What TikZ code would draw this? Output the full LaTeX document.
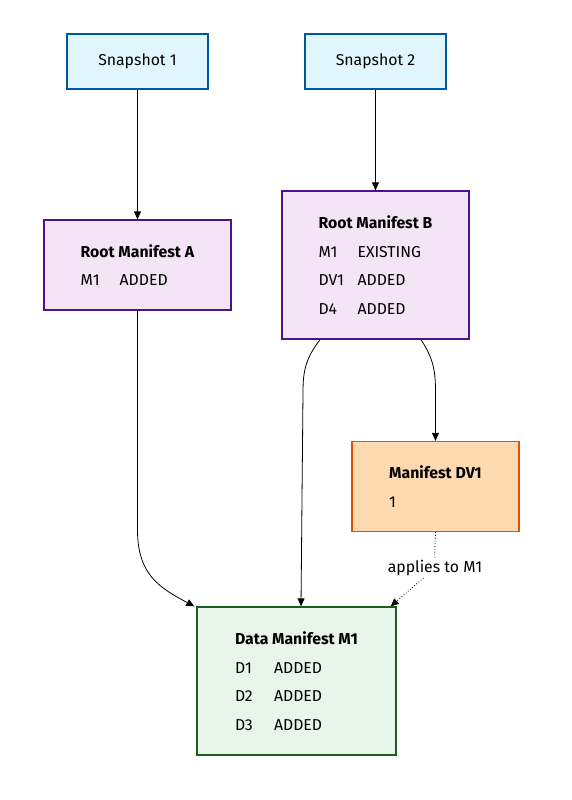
\documentclass[tikz,border=0pt]{standalone}
\usepackage{fontspec}
\setmainfont{Fira Sans}
\usetikzlibrary{arrows.meta}
\definecolor{snapfill}{HTML}{E1F5FE}
\definecolor{snapline}{HTML}{01579B}
\definecolor{rootfill}{HTML}{F3E5F5}
\definecolor{rootline}{HTML}{4A148C}
\definecolor{dvfill}{HTML}{FFDAB0}
\definecolor{dvline}{HTML}{E65100}
\definecolor{datafill}{HTML}{E8F5E9}
\definecolor{dataline}{HTML}{1B5E20}
\newcommand{\entry}[2]{\makebox[39pt][l]{#1}#2}
\begin{document}
\begin{tikzpicture}[x=1pt, y=-1pt,
		box/.style={draw, line width=1.3pt, align=left, inner sep=0pt, font=\fontsize{15.8}{28.5}\selectfont},
		snapbox/.style={box, fill=snapfill, draw=snapline, minimum width=141pt, minimum height=55pt},
		rootbox/.style={box, fill=rootfill, draw=rootline, minimum width=187pt},
		link/.style={line width=0.8pt, -{Triangle[length=8pt,width=7pt]}},
		dotlink/.style={line width=0.8pt, dotted}]
	\useasboundingbox (0,0) rectangle (572,800);
	
	% snapshots
	\node[snapbox] (s1) at (137.5, 61.5) {Snapshot 1};
	\node[snapbox] (s2) at (375.5, 61.5) {Snapshot 2};
	
	% root manifests
	\node[rootbox, minimum height=90pt] (ra) at (137.5, 265) {\textbf{Root Manifest A}\\ \entry{M1}{ADDED}};
	\node[rootbox, minimum height=148pt] (rb) at (375.5, 265) {\textbf{Root Manifest B}\\ \entry{M1}{EXISTING}\\ \entry{DV1}{ADDED}\\ \entry{D4}{ADDED}};
	
	% delete vector and data manifest
	\node[box, fill=dvfill, draw=dvline, minimum width=167pt, minimum height=90pt] (dv) at (435.5, 486.5) {\textbf{Manifest DV1}\\ 1};
	\node[box, fill=datafill, draw=dataline, minimum width=199pt, minimum height=148pt] (dm) at (296.5, 681) {\textbf{Data Manifest M1}\\ \entry{D1}{ADDED}\\ \entry{D2}{ADDED}\\ \entry{D3}{ADDED}};
	
	\node[font=\fontsize{15.8}{19}\selectfont, inner sep=2pt] (lbl) at (435, 568) {applies to M1};
	
	% connectors
	\draw[link] (s1) -- (ra);
	\draw[link] (s2) -- (rb);
	\draw[link] (ra.south) -- (137.5, 530) .. controls (137.5, 575) and (160, 588) .. ([xshift=-2pt]dm.north west);
	\draw[link] ([xshift=-55.5pt]rb.south) .. controls (306, 358) and (303, 370) .. (303, 392) -- ([xshift=4.5pt]dm.north);
	\draw[link] ([xshift=45.5pt]rb.south) .. controls (433, 358) and (435.5, 370) .. (435.5, 392) -- (dv.north);
	\draw[dotlink] (dv.south) .. controls (435.5, 545) and (434, 550) .. (lbl.north);
	\draw[dotlink, -{Triangle[length=8pt,width=7pt]}] (lbl) -- ([xshift=-6pt]dm.north east);
\end{tikzpicture}
\end{document}
